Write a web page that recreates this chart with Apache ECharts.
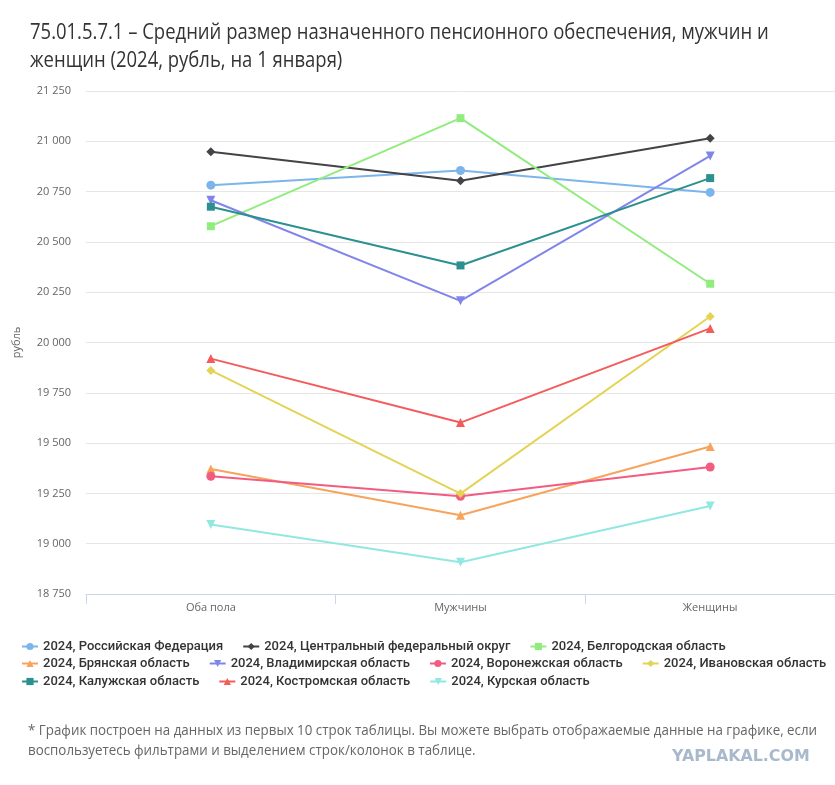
<!DOCTYPE html>
<html><head><meta charset="utf-8">
<script src="https://cdn.jsdelivr.net/npm/echarts@6/dist/echarts.min.js"></script>
<style>html,body{margin:0;padding:0;background:#fff}#c{width:835px;height:785px}</style>
</head><body><div id="c"></div>
<script>
const categories = ['Оба пола', 'Мужчины', 'Женщины'];
const seriesNames = [
  '2024, Российская Федерация',
  '2024, Центральный федеральный округ',
  '2024, Белгородская область',
  '2024, Брянская область',
  '2024, Владимирская область',
  '2024, Воронежская область',
  '2024, Ивановская область',
  '2024, Калужская область',
  '2024, Костромская область',
  '2024, Курская область'
];
const rf = [20782, 20855, 20746];
const cfo = [20948, 20804, 21015];
const belgorod = [20578, 21115, 20292];
const bryansk = [19371, 19141, 19483];
const vladimir = [20707, 20207, 20927];
const voronezh = [19335, 19236, 19381];
const ivanovo = [19861, 19249, 20129];
const kaluga = [20675, 20383, 20817];
const kostroma = [19920, 19602, 20070];
const kursk = [19095, 18908, 19187];
const values = [rf, cfo, belgorod, bryansk, vladimir, voronezh, ivanovo, kaluga, kostroma, kursk];
const colors = ['#7cb5ec','#434348','#90ed7d','#f7a35c','#8085e9','#f15c80','#e4d354','#2b908f','#f45b5b','#91e8e1'];
const triDown = 'path://M0,0 L10,0 L5,10 Z';
const symbols = ['circle','diamond','rect','triangle',triDown,'circle','diamond','rect','triangle',triDown];
const yMin = 18750, yMax = 21250, yStep = 250;
const legendRows = [[0, 1, 2], [3, 4, 5, 6], [7, 8, 9]];
const titleLines = ['75.01.5.7.1 – Средний размер назначенного пенсионного обеспечения, мужчин и', 'женщин (2024, рубль, на 1 января)'];
const noteLines = ['* График построен на данных из первых 10 строк таблицы. Вы можете выбрать отображаемые данные на графике, если', 'воспользуетесь фильтрами и выделением строк/колонок в таблице.'];

const chart = echarts.init(document.getElementById('c'));
const fmt = v => String(v).replace(/\B(?=(\d{3})+(?!\d))/g, ' ');
const legendTops = [635, 652, 670];
chart.setOption({
  animation: false,
  color: colors,
  grid: { left: 86, right: -6, top: 91, bottom: 191, containLabel: false },
  xAxis: {
    type: 'category', data: categories, boundaryGap: true,
    axisLine: { lineStyle: { color: '#ccd6eb' } },
    axisTick: { show: true, lineStyle: { color: '#ccd6eb' }, length: 10 },
    axisLabel: { color: '#666', fontSize: 11, fontFamily: 'Open Sans, sans-serif', margin: 8 },
    splitLine: { show: false }
  },
  yAxis: {
    type: 'value', min: yMin, max: yMax, interval: yStep,
    name: 'рубль', nameLocation: 'middle', nameGap: 64, nameRotate: 90,
    nameTextStyle: { color: '#666', fontSize: 11, fontFamily: 'Open Sans, sans-serif' },
    axisLine: { show: false }, axisTick: { show: false },
    axisLabel: { color: '#666', fontSize: 11, fontFamily: 'Open Sans, sans-serif', formatter: fmt, margin: 15 },
    splitLine: { lineStyle: { color: '#e6e6e6' } }
  },
  legend: legendRows.map((row, r) => ({
    left: 16, top: legendTops[r], width: 830, padding: [5, 5, 5, 5], itemGap: 19, itemWidth: 16, itemHeight: 9,
    textStyle: { color: '#333', fontSize: 13, fontWeight: 500, fontFamily: 'Roboto, sans-serif' },
    data: row.map(i => seriesNames[i])
  })),
  series: values.map((d, i) => ({
    name: seriesNames[i], type: 'line', data: d,
    symbol: symbols[i], symbolSize: symbols[i] === 'rect' ? 8 : 9,
    showAllSymbol: true,
    lineStyle: { width: 2, color: colors[i] },
    itemStyle: { color: colors[i] }
  })),
  graphic: [
    { type: 'text', x: 30, y: 19, scaleX: 0.88, style: { text: titleLines.join('\n'), fill: '#333', fontSize: 21, lineHeight: 28, verticalAlign: 'top', fontFamily: 'Open Sans, sans-serif' } },
    { type: 'text', x: 28, y: 721, scaleX: 0.89, style: { text: noteLines.join('\n'), fill: '#666', fontSize: 15, lineHeight: 20, verticalAlign: 'top', fontFamily: 'Open Sans, sans-serif' } },
    { type: 'text', x: 672, y: 749, scaleX: 0.99, style: { text: 'YAPLAKAL.COM', fill: '#a9b9cc', fontSize: 16, fontWeight: 'bold', verticalAlign: 'top', fontFamily: 'DejaVu Sans, sans-serif' } }
  ]
});
</script></body></html>
